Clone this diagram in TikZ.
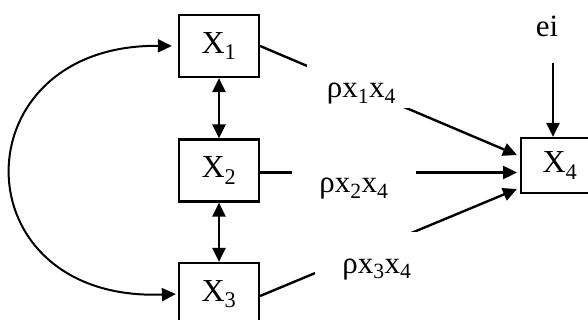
\documentclass[tikz,border=0pt]{standalone}
\usepackage{fontspec}
\setmainfont{Liberation Serif}
\usetikzlibrary{arrows.meta}
\begin{document}
\begin{tikzpicture}[x=1pt,y=-1pt,
  var/.style={draw,line width=2.2pt,minimum width=80pt,minimum height=62pt,inner sep=0pt,font=\fontsize{32}{36}\selectfont},
  arr/.style={line width=2.4pt,-{Triangle[length=14pt,width=13pt]}},
  darr/.style={line width=2.4pt,{Triangle[length=14pt,width=13pt]}-{Triangle[length=14pt,width=13pt]}},
  lab/.style={fill=white,inner sep=0pt,anchor=base,font=\fontsize{31}{34}\selectfont}]
\clip (0,0) rectangle (588,320);
\fill[white] (0,0) rectangle (588,320);
% variables
\node[var] (X1) at (219,46) {X\textsubscript{1}};
\node[var] (X2) at (219,170.5) {X\textsubscript{2}};
\node[var] (X3) at (219,294) {X\textsubscript{3}};
\node[var,minimum width=78pt,minimum height=55pt] (X4) at (560,165.5) {X\textsubscript{4}};
% error term
\node[lab,text height=37pt,text depth=20pt,minimum width=68pt] (e) at (547,37) {ei};
\coordinate (eb) at (553,63);
\coordinate (t1) at (517,155);
\coordinate (t2) at (517,172.5);
\coordinate (t3) at (517,189);
% paths
\draw[arr] (eb) -- (eb |- X4.north);
\draw[arr] (X1.east) -- (t1);
\draw[arr] (X2.east |- t2) -- (t2);
\draw[arr] ([yshift=-2pt]X3.east) -- (t3);
\draw[darr] (X1.south) -- (X2.north);
\draw[darr] (X2.south) -- (X3.north);
\draw[darr,line width=2pt,shorten <=6pt,shorten >=2pt] (X1.west) .. controls (-42,44) and (-42,302) .. (X3.west);
% path labels
\node[lab,text height=42pt,text depth=10pt,minimum width=109pt] (l1) at (361.5,98) {ρx\textsubscript{1}x\textsubscript{4}};
\node[lab,text height=35pt,text depth=12pt,minimum width=124pt] (l2) at (354,193) {ρx\textsubscript{2}x\textsubscript{4}};
\node[lab,text height=41pt,text depth=5pt,minimum width=124pt] (l3) at (377,273) {ρx\textsubscript{3}x\textsubscript{4}};
\end{tikzpicture}
\end{document}
